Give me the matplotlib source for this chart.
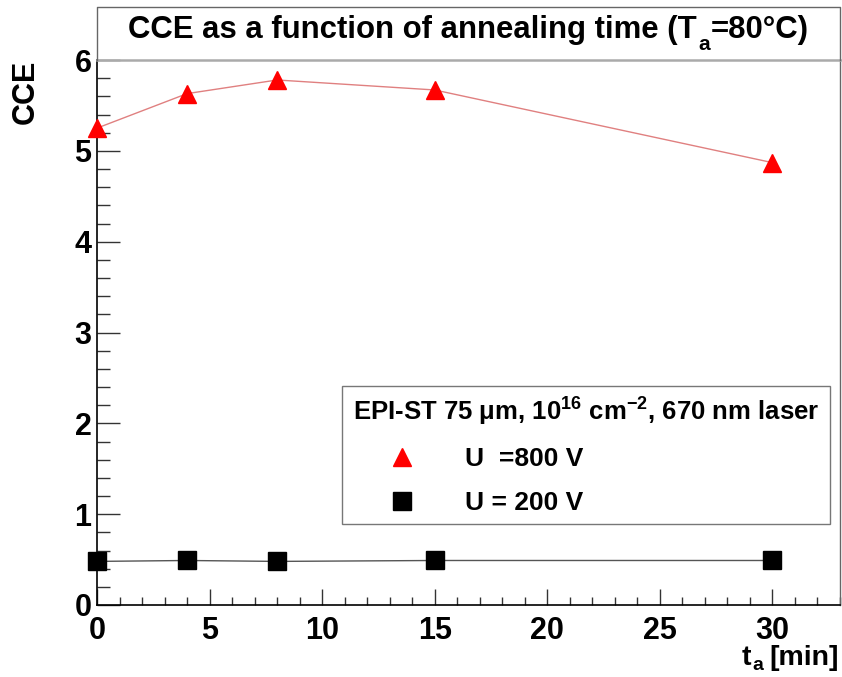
import matplotlib
matplotlib.use("Agg")
import matplotlib.pyplot as plt
from matplotlib.lines import Line2D
from matplotlib.ticker import MultipleLocator

plt.rcParams['font.family'] = ['Liberation Sans', 'DejaVu Sans']
plt.rcParams['font.weight'] = 'bold'
plt.rcParams['mathtext.fontset'] = 'custom'
plt.rcParams['mathtext.rm'] = 'Liberation Sans:bold'
plt.rcParams['mathtext.it'] = 'Liberation Sans:bold'
plt.rcParams['mathtext.bf'] = 'Liberation Sans:bold'
plt.rcParams['mathtext.default'] = 'rm'

# Annealing times [min] and charge collection efficiency
t_anneal = [0, 4, 8, 15, 30]
cce_800v = [5.25, 5.63, 5.78, 5.67, 4.87]
cce_200v = [0.48, 0.49, 0.48, 0.49, 0.49]

# text pieces: (string, font size, baseline shift in px, gap before in px)
title_parts = [("CCE as a function of annealing time (T", 22.4, 0, 0),
               ("a", 15, -12, 1),
               ("=80°C)", 22.4, 0, 1)]
xlabel_parts = [("t", 20.5, 0, 0), ("a", 14, -5, 1), ("[min]", 20.5, 0, 6)]
legend_header = "EPI-ST 75 μm, 10$^{16}$ cm$^{-2}$, 670 nm laser"
label_800 = "U  =800 V"
label_200 = "U = 200 V"
ylabel = "CCE"

W, H = 842, 677
fig = plt.figure(figsize=(W / 100, H / 100), dpi=100)
L, R, B, T = 97, 840, 605, 60
ax = fig.add_axes([L / W, (H - B) / H, (R - L) / W, (B - T) / H])
ax.set_xlim(0, 33)
ax.set_ylim(0, 6)

# data lines and markers
ax.plot(t_anneal, cce_800v, color='#e08080', lw=1.0, zorder=2)
h800, = ax.plot(t_anneal, cce_800v, ls='none', marker='^', ms=13.5,
                color='red', mec='red', clip_on=False, zorder=3)
ax.plot(t_anneal, cce_200v, color='#555555', lw=1.0, zorder=2)
h200, = ax.plot(t_anneal, cce_200v, ls='none', marker='s', ms=12.6,
                color='black', mec='black', clip_on=False, zorder=3)

# axes frame
ax.spines['left'].set_color('black')
ax.spines['left'].set_linewidth(1.2)
ax.spines['bottom'].set_color('black')
ax.spines['bottom'].set_linewidth(1.2)
ax.spines['right'].set_color('#666666')
ax.spines['right'].set_linewidth(1.0)
ax.spines['top'].set_color('#aaaaaa')
ax.spines['top'].set_linewidth(1.8)

ax.xaxis.set_major_locator(MultipleLocator(5))
ax.xaxis.set_minor_locator(MultipleLocator(1))
ax.yaxis.set_major_locator(MultipleLocator(1))
ax.yaxis.set_minor_locator(MultipleLocator(0.2))
ax.tick_params(axis='y', which='major', direction='in', length=16.5, width=1,
               color='#333333', labelsize=22, pad=4)
ax.tick_params(axis='y', which='minor', direction='in', length=9.4, width=1,
               color='#333333')
ax.tick_params(axis='x', which='major', direction='in', length=11.5, width=1,
               color='#333333', labelsize=22, pad=8)
ax.tick_params(axis='x', which='minor', direction='in', length=5.8, width=1,
               color='#333333')


def place_parts(parts, x_px, base_px, align):
    """Lay out text pieces side by side, with sub-scripted pieces shifted down."""
    renderer = fig.canvas.get_renderer()
    items = []
    total = 0.0
    for s, size, dy, gap in parts:
        t = fig.text(0, 0, s, fontsize=size, ha='left', va='baseline')
        w = t.get_window_extent(renderer).width
        items.append((t, dy, gap, total + gap))
        total += gap + w
    start = x_px - total / 2 if align == 'center' else x_px - total
    for t, dy, gap, off in items:
        t.set_position(((start + off) / W, (H - base_px + dy) / H))


# title box above the plot area
fig.add_artist(Line2D([L / W, L / W, R / W, R / W],
                      [(H - T) / H, (H - 7) / H, (H - 7) / H, (H - T) / H],
                      transform=fig.transFigure, color='#666666', lw=1.0))
place_parts(title_parts, 468.5, 38, 'center')
place_parts(xlabel_parts, R - 1, 665, 'right')
fig.text(26 / W, (H - 92) / H, ylabel, rotation=90, ha='center', va='center',
         fontsize=22)

x0, x1 = (342 - L) / (R - L), (830 - L) / (R - L)
y1, y0 = (B - 386) / (B - T), (B - 524) / (B - T)
leg = ax.legend([h800, h200], [label_800, label_200], title=legend_header,
                loc='upper left', bbox_to_anchor=(x0, y0, x1 - x0, y1 - y0),
                mode='expand', borderaxespad=0, fontsize=19, title_fontsize=18.5,
                handlelength=3.8, handletextpad=0.5, borderpad=0.36,
                labelspacing=0.74, numpoints=1, fancybox=False, framealpha=1)
leg.get_frame().set_edgecolor('#777777')
leg.get_frame().set_linewidth(1.0)
leg.get_title().set_fontweight('bold')

fig.savefig('out.png', dpi=100)
